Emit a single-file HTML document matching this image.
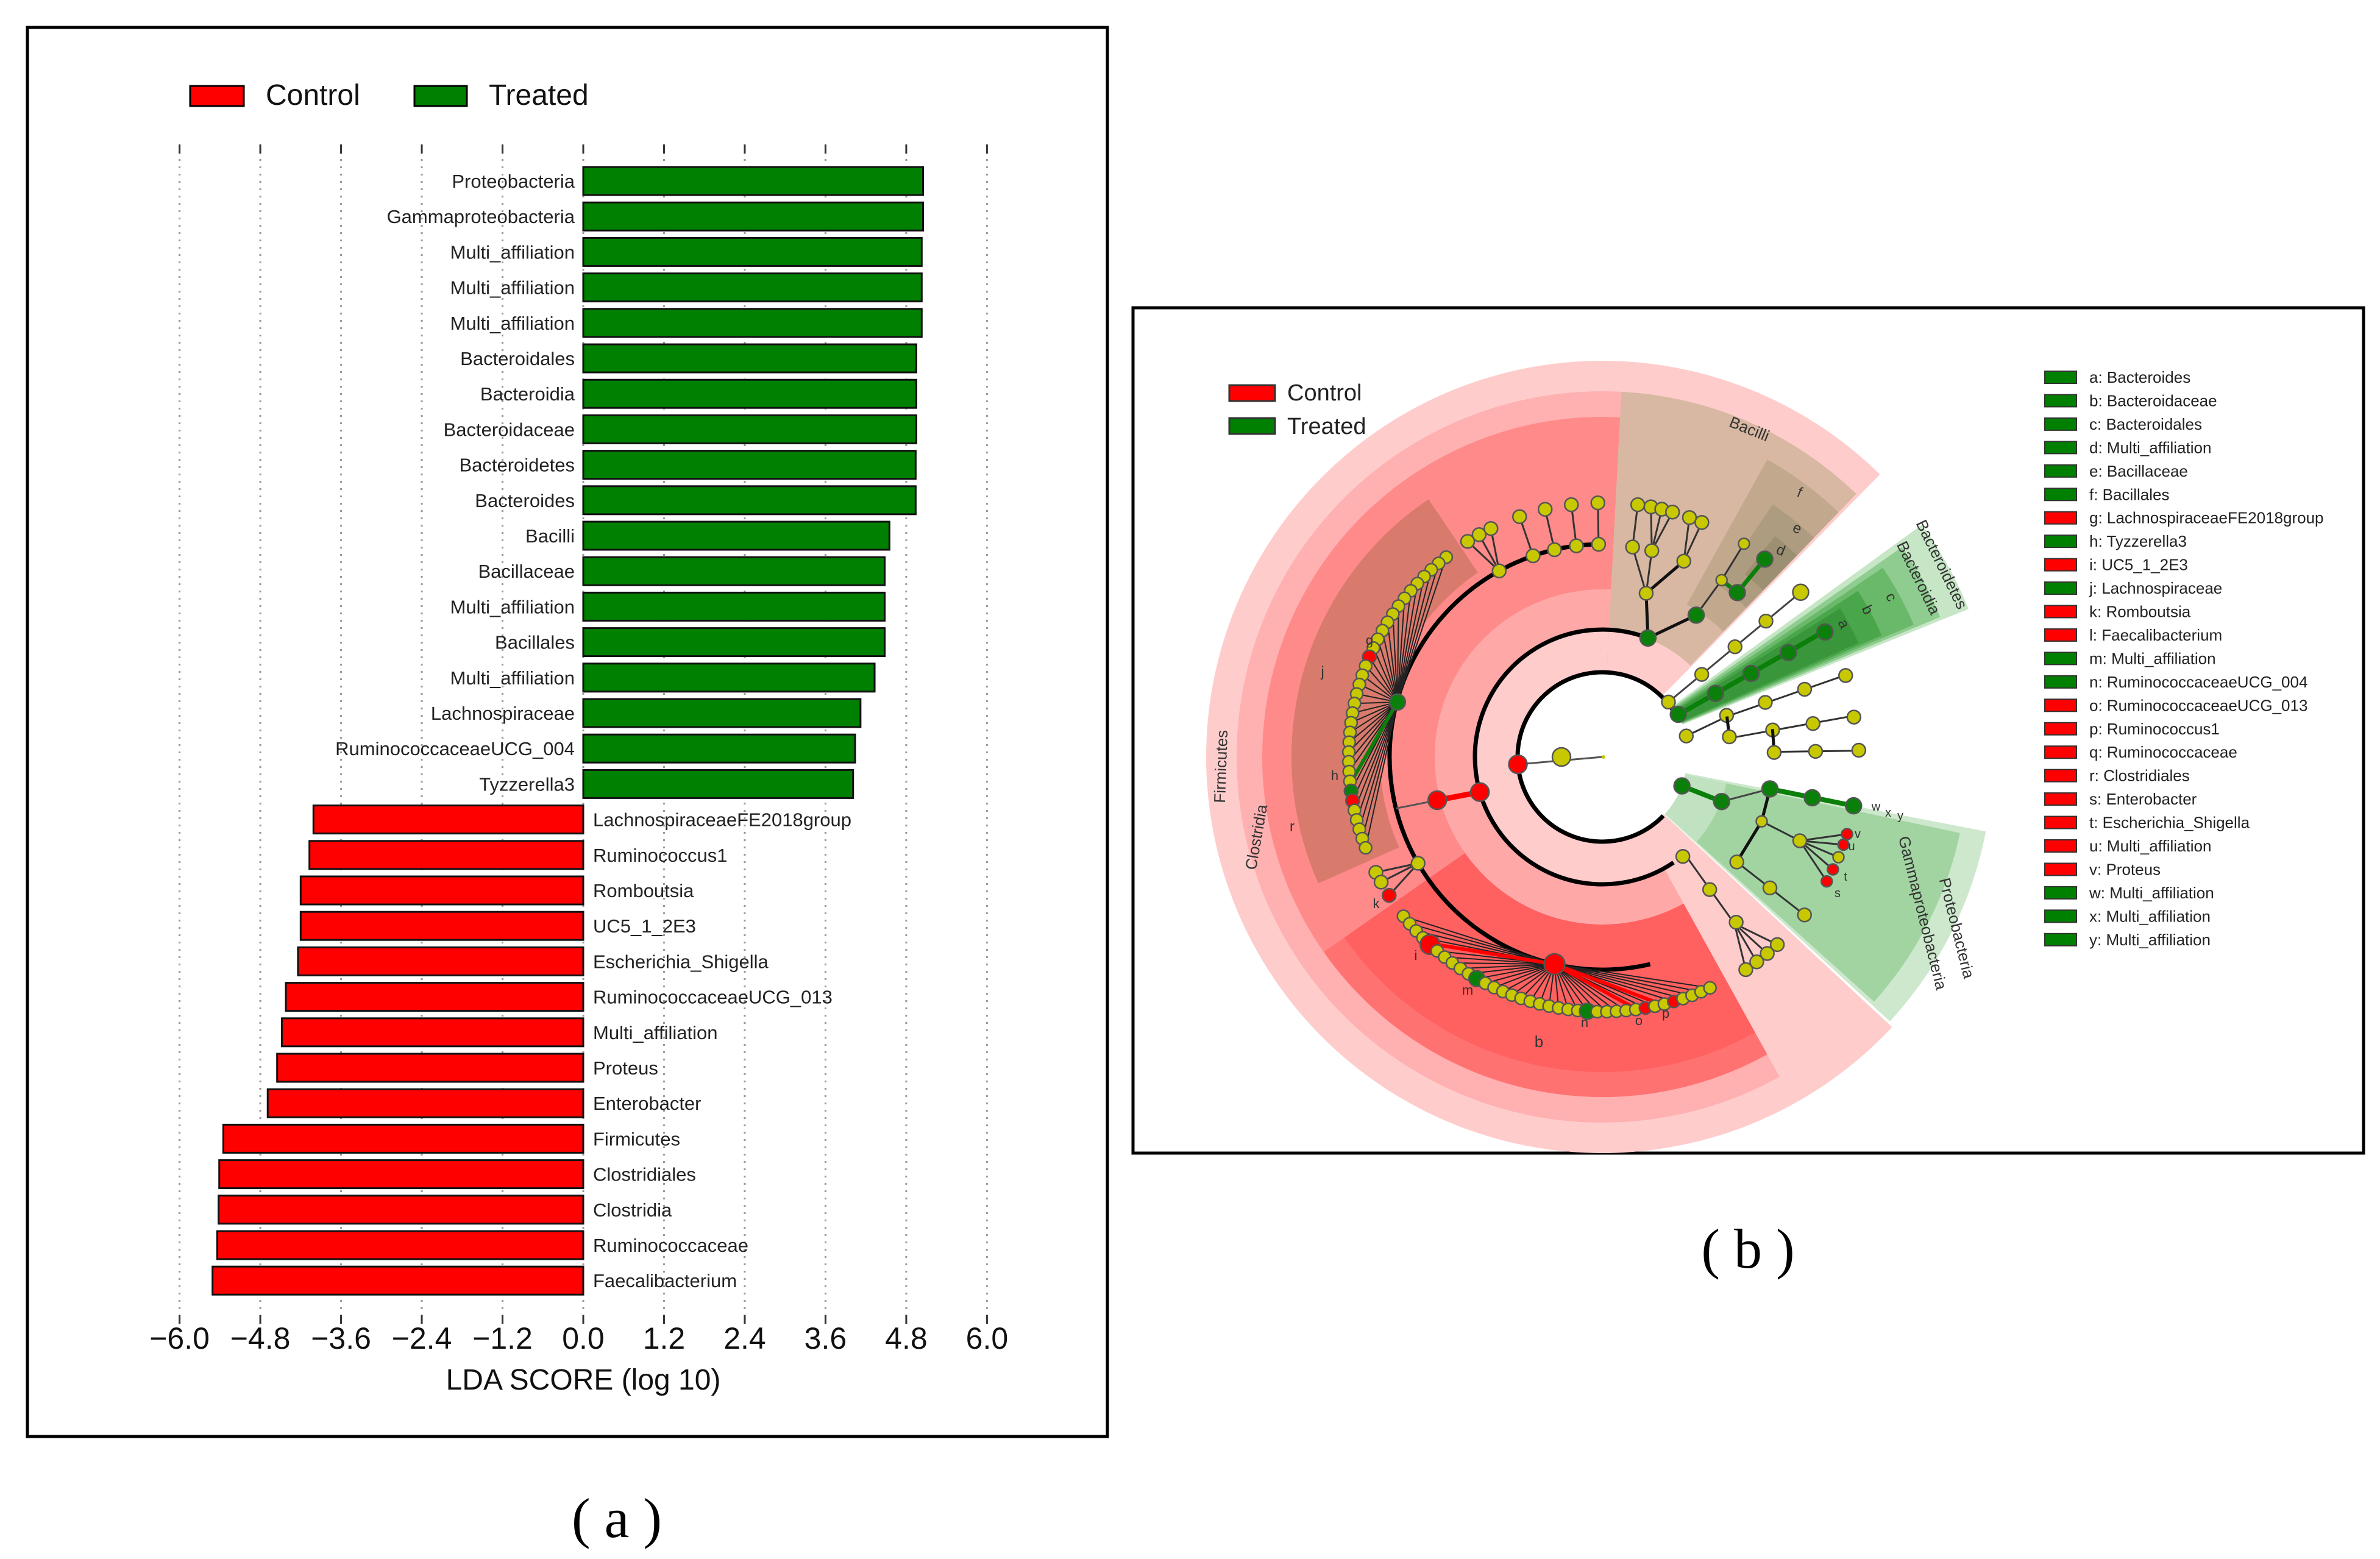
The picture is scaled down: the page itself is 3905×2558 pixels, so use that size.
<!DOCTYPE html>
<html><head><meta charset="utf-8"><style>
html,body{margin:0;padding:0;background:#fff;}
svg{display:block;}
text{font-family:"Liberation Sans","DejaVu Sans",sans-serif;}
</style></head><body>
<svg id="fig" width="3905" height="2558" viewBox="0 0 3905 2558" xmlns="http://www.w3.org/2000/svg">
<rect x="0" y="0" width="3905" height="2558" fill="#fff"/>
<g id="panelA">
<rect x="45" y="45" width="1772" height="2312" fill="none" stroke="#000" stroke-width="5"/>
<rect x="312" y="141" width="88" height="33" fill="#ff0000" stroke="#000" stroke-width="3"/>
<text x="436" y="172" font-size="48" fill="#111">Control</text>
<rect x="680" y="141" width="86" height="33" fill="#008000" stroke="#000" stroke-width="3"/>
<text x="802" y="172" font-size="48" fill="#111">Treated</text>
<g id="grid"></g><g id="bars"></g><g id="ticks"></g>
<text x="957" y="2280" font-size="48" text-anchor="middle" fill="#111">LDA SCORE (log 10)</text>
</g>
<text x="1012" y="2522" font-size="92" text-anchor="middle" style="font-family:'Liberation Serif',serif">( a )</text>

<g id="panelB">
<rect x="1859" y="505" width="2019" height="1387" fill="none" stroke="#000" stroke-width="5"/>
<g id="clado"></g>
<rect x="2017" y="632" width="75" height="26" fill="#ff0000" stroke="#333" stroke-width="3"/>
<text x="2112" y="657" font-size="38" fill="#222">Control</text>
<rect x="2017" y="686" width="75" height="26" fill="#008000" stroke="#333" stroke-width="3"/>
<text x="2112" y="712" font-size="38" fill="#222">Treated</text>
<g id="keys"></g>
</g>
<text x="2868" y="2080" font-size="92" text-anchor="middle" style="font-family:'Liberation Serif',serif">( b )</text>
</svg>
<script>
const categories=["Proteobacteria","Gammaproteobacteria","Multi_affiliation","Multi_affiliation","Multi_affiliation","Bacteroidales","Bacteroidia","Bacteroidaceae","Bacteroidetes","Bacteroides","Bacilli","Bacillaceae","Multi_affiliation","Bacillales","Multi_affiliation","Lachnospiraceae","RuminococcaceaeUCG_004","Tyzzerella3","LachnospiraceaeFE2018group","Ruminococcus1","Romboutsia","UC5_1_2E3","Escherichia_Shigella","RuminococcaceaeUCG_013","Multi_affiliation","Proteus","Enterobacter","Firmicutes","Clostridiales","Clostridia","Ruminococcaceae","Faecalibacterium"];
const ldaValues=[5.05,5.05,5.03,5.03,5.03,4.95,4.95,4.95,4.94,4.94,4.55,4.48,4.48,4.48,4.33,4.12,4.04,4.01,-4.01,-4.07,-4.20,-4.20,-4.24,-4.42,-4.48,-4.55,-4.69,-5.35,-5.41,-5.42,-5.44,-5.51];
const tickValues=[-6.0,-4.8,-3.6,-2.4,-1.2,0.0,1.2,2.4,3.6,4.8,6.0];
const tickLabels=["\u22126.0","\u22124.8","\u22123.6","\u22122.4","\u22121.2","0.0","1.2","2.4","3.6","4.8","6.0"];
const legendKeys=["a: Bacteroides","b: Bacteroidaceae","c: Bacteroidales","d: Multi_affiliation","e: Bacillaceae","f: Bacillales","g: LachnospiraceaeFE2018group","h: Tyzzerella3","i: UC5_1_2E3","j: Lachnospiraceae","k: Romboutsia","l: Faecalibacterium","m: Multi_affiliation","n: RuminococcaceaeUCG_004","o: RuminococcaceaeUCG_013","p: Ruminococcus1","q: Ruminococcaceae","r: Clostridiales","s: Enterobacter","t: Escherichia_Shigella","u: Multi_affiliation","v: Proteus","w: Multi_affiliation","x: Multi_affiliation","y: Multi_affiliation"];
const legendGroups=["T","T","T","T","T","T","C","T","C","T","C","C","T","T","C","C","C","C","C","C","C","C","T","T","T"];

const NS="http://www.w3.org/2000/svg";
function mk(tag,parent,attrs){const e=document.createElementNS(NS,tag);for(const k in attrs)e.setAttribute(k,attrs[k]);parent.appendChild(e);return e;}
const X0=957, UNIT=110.4, Y0=297, STEP=58.2, BH=46;
const xs=v=>X0+v*UNIT;
const ys=i=>Y0+i*STEP;
const grid=document.getElementById('grid'), bars=document.getElementById('bars'), ticks=document.getElementById('ticks');
tickValues.forEach((t,i)=>{
  const gl=mk('line',grid,{x1:xs(t),x2:xs(t),y1:237,y2:2172,stroke:'#999','stroke-width':3,'stroke-dasharray':'3 9'});
  
  
  const tm=mk('line',ticks,{x1:xs(t),x2:xs(t),y1:237,y2:252,stroke:'#333','stroke-width':3});
  
  
  const tb=mk('line',ticks,{x1:xs(t),x2:xs(t),y1:2158,y2:2172,stroke:'#333','stroke-width':3});
  
  
  const tl=mk('text',ticks,{x:xs(t),y:2213,'font-size':50,'text-anchor':'middle',fill:'#111'});
  tl.textContent=tickLabels[i];
  
  
});
categories.forEach((c,i)=>{
  const v=ldaValues[i], y=ys(i);
  const r=mk('rect',bars,{x:Math.min(xs(0),xs(v)),y:y-BH/2,width:Math.abs(xs(v)-xs(0)),height:BH,fill:v>=0?'#008000':'#ff0000',stroke:'#111','stroke-width':3});
  
  
  const t=mk('text',bars,{x:v>=0?X0-14:X0+16,y:y+11,'font-size':31,'text-anchor':v>=0?'end':'start',fill:'#222'});
  t.textContent=c;
  
  
});

// Cladogram
const CX=2629, CY=1242;
const cl=document.getElementById('clado');
const P=(r,a)=>[CX+r*Math.cos(a*Math.PI/180), CY-r*Math.sin(a*Math.PI/180)];
function wedge(r0,r1,a0,a1,fill,name){
  let span=a1-a0; if(span<0) span+=360;
  const large=span>180?1:0;
  const p1=P(r1,a0),p2=P(r1,a0+span),p3=P(r0,a0+span),p4=P(r0,a0);
  let d=`M${p1} A${r1},${r1} 0 ${large} 0 ${p2} L${p3} `;
  d+= r0>0?`A${r0},${r0} 0 ${large} 1 ${p4} Z`:'Z';
  const e=mk('path',cl,{d:d,fill:fill});
  
  
}
function arc(r,a0,a1,name){
  let span=a1-a0; if(span<0) span+=360;
  const p1=P(r,a0),p2=P(r,a0+span);
  const e=mk('path',cl,{d:`M${p1} A${r},${r} 0 ${span>180?1:0} 0 ${p2}`,fill:'none',stroke:'#000','stroke-width':7});
  
  
}
function line(r0,a0,r1,a1,col,w){
  const a=P(r0,a0),b=P(r1,a1);
  const e=mk('line',cl,{x1:a[0],y1:a[1],x2:b[0],y2:b[1],stroke:col||'#333','stroke-width':w||3});
  
  
}
const COL={Y:'#c8c800',R:'#ff0000',G:'#0a800a'};
function node(r,a,c,s){
  const p=P(r,a);
  const e=mk('circle',cl,{cx:p[0],cy:p[1],r:s||11,fill:COL[c],stroke:'#555','stroke-width':2.5});
  
  
}
function lbl(x,y,txt,rot,size){
  const e=mk('text',cl,{x:x,y:y,'font-size':size||26,'text-anchor':'middle',fill:'#333',transform:`rotate(${rot||0} ${x} ${y})`});
  e.textContent=txt;
  
  
}
wedge(0,650,45.5,317,'#ffcccc','firmicutes-shade');
wedge(0,600,87,299,'#ffb0b0','clostridia-shade');
wedge(0,558,87,299,'#ff8a8a','clostridiales-shade');
wedge(0,275,87,299,'#ffa8a8','inner-ring');
wedge(0,208,87,299,'#ffcccc','inner-ring');
wedge(275,558,215,299,'#ff7272','ruminococcaceae-shade-outer');
wedge(275,517,215,299,'#ff6060','ruminococcaceae-shade');
wedge(365,510,124,204,'#d87a6c','lachnospiraceae-shade');
wedge(208,600,46,87,'#d8b8a2','bacilli-shade');
wedge(286,558,46,61,'#c2a98e','bacillales-shade');
wedge(340,500,46,56,'#ae9c80','bacillaceae-shade');
wedge(380,460,46,52,'#9c8f72','multi-shade');
wedge(142,648,22,36,'#c6e6c6','bacteroidetes-shade');
wedge(142,600,22.5,35,'#8fcc8f','bacteroidia-shade');
wedge(142,555,23,34,'#6ab86a','bacteroidales-shade');
wedge(142,500,23.5,33,'#4aa64a','bacteroidaceae-shade');
wedge(142,460,24,32,'#3a963a','bacteroides-shade');
wedge(139,641,-42.6,-11,'#cde8cd','proteobacteria-shade');
wedge(139,600,-42,-12,'#a2d4a2','gammaproteobacteria-shade');
wedge(139,208,-42,-12,'#c0e2c0','inner-green');
const wc=mk('circle',cl,{cx:CX,cy:CY,r:137,fill:'#fff'});


arc(139,29,316,'arc-level1');
arc(209,69,304,'arc-level2');
arc(349,91,283,'arc-level4');
line(0,180,139,185,'#555',3); node(67,180,'Y',15);
const cd=mk('circle',cl,{cx:CX+2,cy:CY,r:3,fill:'#c8c800'});


line(209,196,280,194.7,'#ff0000',9); line(280,194.7,349,194,'#555',3);
node(139,185,'R',15); node(209,196,'R',15); node(280,194.7,'R',15);
for(let i=0;i<34;i++){const a=128+i*(201-128)/33; line(348,165,416,a,'#222',2);}
line(348,165,416,186,'#0a800a',6);
node(348,165,'G',13);
for(let i=0;i<34;i++){const a=128+i*(201-128)/33; let c='Y'; if(i==13)c='R'; if(i==27)c='G'; if(i==28)c='R'; node(416,a,c,c=='Y'?10:11);}
[122,119,116].forEach(a=>{line(349,119,417,a);});
node(349,119,'Y'); [122,119,116].forEach(a=>node(417,a,'Y'));
[109,103,97,91].forEach(a=>{line(349,a,417,a);node(349,a,'Y');node(417,a,'Y');});
[207,209.5,213].forEach(a=>line(349,210,417,a)); node(349,210,'Y');
node(417,207,'Y'); node(417,209.5,'Y'); node(417,213,'R');
for(let i=0;i<36;i++){const a=218.7+i*(295-218.7)/35; line(349,257,418,a,'#222',2);}
[227,277.8,283.6].forEach(a=>line(349,257,418,a,'#ff0000',6));
for(let i=0;i<36;i++){const a=218.7+i*(295-218.7)/35; let c='Y',s=10; if(i==4){c='R';s=16;} if(i==10){c='G';s=13;} if(i==22){c='G';s=13;} if(i==28)c='R'; if(i==31)c='R'; node(418,a,c,s);}
node(349,257,'R',17);
line(209,69,278,75,'#111',5); line(209,69,279,56.5,'#111',5);
line(278,75,348,76.5); line(278,75,348,81.8); line(278,75,348,67.4,'#111',5);
[79,76.5,74].forEach(a=>line(348,76.5,418,a)); line(348,81.8,418,82);
[70,67].forEach(a=>line(348,67.4,418,a));
line(279,56.5,350,56); line(350,56,420,56.4); line(350,56,349,50.6,'#0a800a',7); line(349,50.6,420,50.6,'#0a800a',7);
node(209,69,'G',13); node(278,75,'Y'); node(279,56.5,'G',13);
node(348,76.5,'Y'); node(348,81.8,'Y'); node(348,67.4,'Y');
[79,76.5,74,82,70,67].forEach(a=>node(418,a,'Y'));
node(350,56,'Y',9); node(420,56.4,'Y',9); node(349,50.6,'G',13); node(420,50.6,'G',13);
line(143,29,419,29.5,'#0a800a',8);
[143,213,280,350,419].forEach(r=>node(r,29.3,'G',13));
line(141,39.7,423,39.7,'#444',3);
[141,212,283,349].forEach(r=>node(r,39.7,'Y')); node(423,39.7,'Y',13);
line(142,14,215,18); line(215,18,421,18.6); [215,282,350,421].forEach(r=>node(r,18.5,'Y'));
line(215,18,211,8.4,'#111',5); line(211,8.4,418,9.3); [211,283,350,418].forEach(r=>node(r,9,'Y'));
line(283,9.3,282,1.7,'#111',5); line(282,1.7,421,1.4); [282,350,421].forEach(r=>node(r,1.5,'Y'));
node(142,14,'Y');
line(139,-20,209,-20.5,'#0a800a',8); line(209,-20.5,280,-10.8,'#444',3); line(280,-10.8,420,-11,'#0a800a',8);
line(280,-10.8,282,-22,'#111',5); line(282,-22,280,-38,'#111',5); line(280,-38,421,-38);
line(282,-22,352,-23);
[-17.5,-20,-23,-26,-29].forEach(a=>line(352,-23,421,a));
node(139,-20,'G',13); node(209,-20.5,'G',13); node(280,-10.8,'G',13); node(351,-11,'G',13); node(420,-11,'G',13);
node(282,-22,'Y',9); node(280,-38,'Y'); node(349,-38,'Y'); node(421,-38,'Y'); node(352,-23,'Y');
node(421,-17.5,'R',9); node(421,-20,'R',9); node(421,-23,'Y',9); node(421,-26,'R',9); node(421,-29,'R',9);
line(210,-49.7,349,-51.6); [-47,-50,-53,-56].forEach(a=>line(349,-51.6,421,a));
[210,280,349].forEach(r=>node(r,-51,'Y')); [-47,-50,-53,-56].forEach(a=>node(421,a,'Y'));
lbl(2867,712,'Bacilli',22,26); lbl(2950,815,'f',22,24); lbl(2946,874,'e',22,24); lbl(2919,910,'d',22,24);
lbl(3178,930,'Bacteroidetes',64,26); lbl(3140,952,'Bacteroidia',64,26);
lbl(3096,983,'c',64,24); lbl(3057,1004,'b',64,24); lbl(3018,1027,'a',64,24);
lbl(3146,1500,'Gammaproteobacteria',76,26); lbl(3202,1525,'Proteobacteria',76,26);
lbl(2012,1258,'Firmicutes',-88,26); lbl(2070,1375,'Clostridia',-80,26);
lbl(2120,1364,'r',0,24); lbl(2170,1110,'j',0,24); lbl(2525,1718,'b',0,26);
lbl(2247,1058,'g',0,22); lbl(2190,1280,'h',0,22); lbl(2323,1575,'i',0,22); lbl(2258,1490,'k',0,22);
lbl(2408,1632,'m',0,22); lbl(2600,1685,'n',0,22); lbl(2689,1682,'o',0,22); lbl(2733,1670,'p',0,22);
lbl(3015,1472,'s',0,20); lbl(3028,1445,'t',0,20); lbl(3038,1395,'u',0,20); lbl(3048,1375,'v',0,20);
lbl(3078,1330,'w',0,20); lbl(3098,1340,'x',0,20); lbl(3118,1345,'y',0,20);
const keys=document.getElementById('keys');
legendKeys.forEach((k,i)=>{
  const y=619+i*38.45;
  const r=mk('rect',keys,{x:3355,y:y-10,width:52,height:20,fill:legendGroups[i]=='T'?'#008000':'#ff0000',stroke:'#333','stroke-width':2});
  
  
  const t=mk('text',keys,{x:3428,y:y+9,'font-size':26,fill:'#222'});
  t.textContent=k;
  
  
});
</script>
</body></html>
